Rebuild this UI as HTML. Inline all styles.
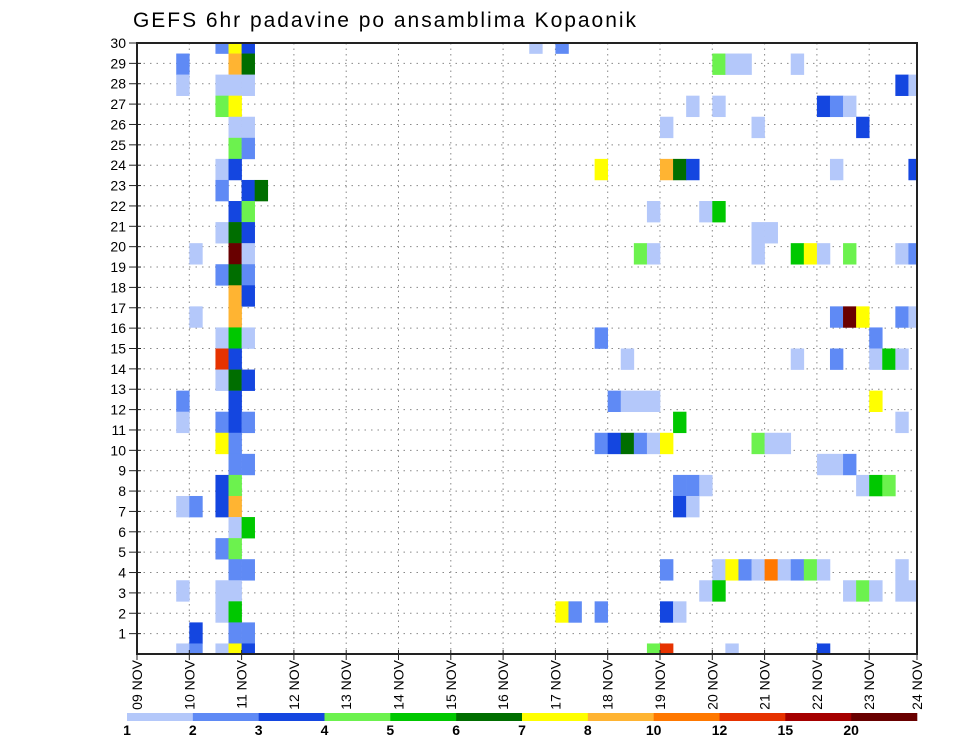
<!DOCTYPE html>
<html><head><meta charset="utf-8"><style>
html,body{margin:0;padding:0;background:#fff;}
svg{display:block;font-family:"Liberation Sans",sans-serif;}
</style></head><body>
<svg id="chart" width="960" height="742" viewBox="0 0 960 742">
<text x="133" y="27" font-size="21" fill="#000" textLength="503" lengthAdjust="spacing">GEFS 6hr padavine po ansamblima Kopaonik</text>
<g id="grid"></g>
<g id="cells" clip-path="url(#clip)"></g>
<defs><clipPath id="clip"><rect x="137" y="43" width="780" height="611"/></clipPath></defs>
<rect x="137" y="43" width="780" height="611" fill="none" stroke="#222" stroke-width="2"/>
<g id="yaxis"></g>
<g id="xaxis"></g>
<g id="legend"></g>
</svg>
<script>
const dayLabels = ["09 NOV","10 NOV","11 NOV","12 NOV","13 NOV","14 NOV","15 NOV","16 NOV","17 NOV","18 NOV","19 NOV","20 NOV","21 NOV","22 NOV","23 NOV","24 NOV"];
const yTickLabels = [1,2,3,4,5,6,7,8,9,10,11,12,13,14,15,16,17,18,19,20,21,22,23,24,25,26,27,28,29,30];
const levelBreaks = [1,2,3,4,5,6,7,8,10,12,15,20];
const levelColors = ["#b4c8fa","#5f8af5","#1446e0","#6cf24e","#00c800","#006e00","#ffff00","#ffb432","#ff7800","#e63200","#a50000","#690000"];
// cell data: 6-hour step index, ensemble member, precipitation (mm)
const cellStep = [
6,7,8, 3,7,8, 3,6,7,8, 6,7, 7,8, 7,8, 6,7, 6,8,9, 7,8, 6,7,8, 4,7,8, 6,7,8, 7,8, 4,7, 6,7,8, 6,7, 6,7,8, 3,7, 3,6,7,8, 6,7, 7,8, 6,7, 3,4,6,7, 7,8, 6,7, 7,8, 3,6,7, 6,7, 4,7,8, 3,4,6,7,8,
30,32, 44,45,46,50, 58,59, 42,44,52,53,54, 40,47,55, 35,40,41,42,53,59, 39,43,44, 47,48, 38,39,47,50,51,52,54,58,59, 53,54,55,58,59, 35,56, 37,50,53,56,57,58, 36,37,38,39,56, 41,58, 35,36,37,38,39,40,47,48,49, 52,53,54, 41,42,43,55,56,57, 41,42, 40,44,45,46,47,48,49,50,51,52,58, 43,44,54,55,56,58,59, 32,33,35,40,41, 39,40,45,52];
const cellMember = [
29,29,29, 28,28,28, 27,27,27,27, 26,26, 25,25, 24,24, 23,23, 22,22,22, 21,21, 20,20,20, 19,19,19, 18,18,18, 17,17, 16,16, 15,15,15, 14,14, 13,13,13, 12,12, 11,11,11,11, 10,10, 9,9, 8,8, 7,7,7,7, 6,6, 5,5, 4,4, 3,3,3, 2,2, 1,1,1, 0,0,0,0,0,
29,29, 28,28,28,28, 27,27, 26,26,26,26,26, 25,25,25, 23,23,23,23,23,23, 21,21,21, 20,20, 19,19,19,19,19,19,19,19,19, 16,16,16,16,16, 15,15, 14,14,14,14,14,14, 12,12,12,12,12, 11,11, 10,10,10,10,10,10,10,10,10, 9,9,9, 8,8,8,8,8,8, 7,7, 4,4,4,4,4,4,4,4,4,4,4, 3,3,3,3,3,3,3, 2,2,2,2,2, 0,0,0,0];
const cellValue = [
2.5,7.5,3.5, 2.5,9,6.5, 1.5,1.5,1.5,1.5, 4.5,7.5, 1.5,1.5, 4.5,2.5, 1.5,3.5, 2.5,3.5,6.5, 3.5,4.5, 1.5,6.5,3.5, 1.5,22,1.5, 2.5,6.5,2.5, 9,3.5, 1.5,9, 1.5,5.5,1.5, 13.5,3.5, 1.5,6.5,3.5, 2.5,3.5, 1.5,2.5,3.5,2.5, 7.5,2.5, 2.5,2.5, 3.5,4.5, 1.5,2.5,3.5,9, 1.5,5.5, 2.5,4.5, 2.5,2.5, 1.5,1.5,1.5, 1.5,5.5, 3.5,2.5,2.5, 1.5,2.5,1.5,7.5,3.5,
1.5,2.5, 4.5,1.5,1.5,1.5, 3.5,1.5, 1.5,1.5,3.5,2.5,1.5, 1.5,1.5,3.5, 7.5,9,6.5,3.5,1.5,3.5, 1.5,1.5,5.5, 1.5,1.5, 4.5,1.5,1.5,5.5,7.5,1.5,4.5,1.5,2.5, 2.5,22,7.5,2.5,1.5, 2.5,2.5, 1.5,1.5,2.5,1.5,5.5,1.5, 2.5,1.5,1.5,1.5,7.5, 5.5,1.5, 2.5,3.5,6.5,2.5,1.5,7.5,4.5,1.5,1.5, 1.5,1.5,2.5, 2.5,2.5,1.5,1.5,5.5,4.5, 3.5,1.5, 2.5,1.5,7.5,2.5,1.5,11,1.5,2.5,4.5,1.5,1.5, 1.5,5.5,1.5,4.5,1.5,1.5,1.5, 7.5,2.5,2.5,3.5,1.5, 4.5,13.5,1.5,3.5];

const NS="http://www.w3.org/2000/svg";
const X0=137, X1=917, Y0=43, Y1=654;
const dayW=52.3, stepW=dayW/4;
const memberH=(Y1-Y0)/29;
const labelH=(Y1-Y0)/30;
function xStep(i){return X0+i*stepW;}
function xDay(d){return X0+d*dayW;}
function yMember(m){return Y1-m*memberH;}
function yLabel(v){return Y1-v*labelH;}
function colorFor(v){let c=0;for(let i=0;i<levelBreaks.length;i++){if(v>=levelBreaks[i])c=i;}return levelColors[c];}
function mk(tag,attrs,parent){const e=document.createElementNS(NS,tag);for(const k in attrs)e.setAttribute(k,attrs[k]);parent.appendChild(e);return e;}

const grid=document.getElementById('grid');
for(let d=1;d<dayLabels.length;d++){
  const x=xDay(d); if(x>X1)continue;
  const l=mk('line',{x1:x,y1:Y0,x2:x,y2:Y1,stroke:'#888','stroke-width':1,'stroke-dasharray':'1.5,4'},grid);
  
  
}
for(let i=0;i<yTickLabels.length;i++){
  const y=yLabel(yTickLabels[i]);
  const l=mk('line',{x1:X0,y1:y,x2:X1,y2:y,stroke:'#888','stroke-width':1,'stroke-dasharray':'1.5,5'},grid);
  
  
}
const cells=document.getElementById('cells');
for(let i=0;i<cellStep.length;i++){
  const r=mk('rect',{x:xStep(cellStep[i]),y:yMember(cellMember[i])-memberH/2,width:stepW+0.3,height:memberH+0.3,fill:colorFor(cellValue[i])},cells);
  
  
}
const yaxis=document.getElementById('yaxis');
for(let i=0;i<yTickLabels.length;i++){
  const y=yLabel(yTickLabels[i]);
  const t=mk('line',{x1:X0-8,y1:y,x2:X0+4,y2:y,stroke:'#222','stroke-width':1},yaxis);
  
  
  const tx=mk('text',{x:X0-11,y:y+5,'font-size':14,'text-anchor':'end',fill:'#000'},yaxis);
  tx.textContent=yTickLabels[i];
  
  
}
const xaxis=document.getElementById('xaxis');
for(let d=0;d<dayLabels.length;d++){
  const x=Math.min(xDay(d),X1);
  const t=mk('line',{x1:x,y1:Y1-4,x2:x,y2:Y1+6,stroke:'#222','stroke-width':1},xaxis);
  
  
  const tx=mk('text',{x:x+5,y:660,'font-size':14,'text-anchor':'end',fill:'#000',transform:'rotate(-90 '+(x+5)+' 660)'},xaxis);
  tx.textContent=dayLabels[d];
  
  
}
const legend=document.getElementById('legend');
const LX0=127, LX1=917, segW=(LX1-LX0)/levelColors.length;
for(let i=0;i<levelColors.length;i++){
  const r=mk('rect',{x:LX0+i*segW,y:713,width:segW+0.3,height:8,fill:levelColors[i]},legend);
  
  
  const t=mk('text',{x:LX0+i*segW,y:735,'font-size':14,'font-weight':'bold','text-anchor':'middle',fill:'#000'},legend);
  t.textContent=levelBreaks[i];
  
  
}
</script>
</body></html>
